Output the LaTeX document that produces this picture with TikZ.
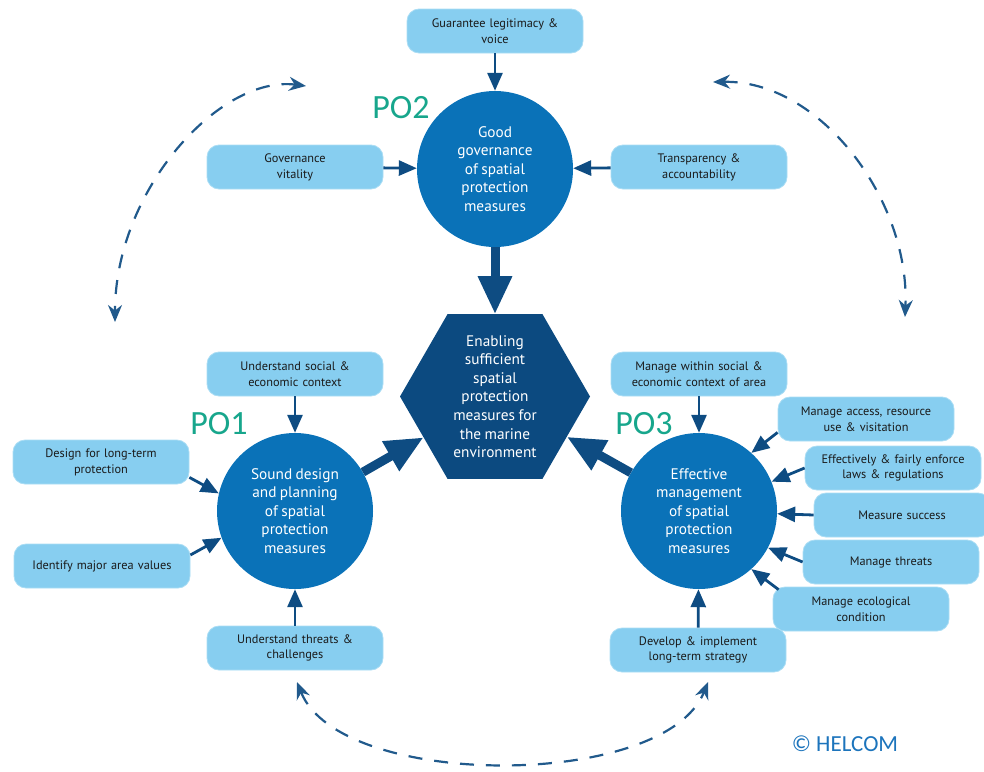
\documentclass[tikz,border=0pt]{standalone}
\usepackage{fontspec}
\setmainfont{PT Sans}[WordSpace=0.85]
\newfontfamily\calfont{Carlito}
\usetikzlibrary{arrows.meta,shapes.geometric}

\definecolor{boxblue}{HTML}{87CEF0}
\definecolor{circblue}{HTML}{0A72B8}
\definecolor{hexblue}{HTML}{0C4A80}
\definecolor{arrblue}{HTML}{0E4C82}
\definecolor{poteal}{HTML}{17A68C}
\definecolor{helblue}{HTML}{1C74BC}
\definecolor{boxtext}{HTML}{1A1A1A}

\tikzset{
  goalbox/.style={rounded corners=12pt, fill=boxblue, draw=boxblue!70!white, line width=0.8pt,
    minimum width=176pt, minimum height=44pt, text width=168pt, align=center, inner sep=0pt,
    text=boxtext, font=\fontsize{12.3}{15.8}\selectfont},
  objcircle/.style={circle, fill=circblue, minimum size=156pt, inner sep=0pt, align=center,
    text=white, font=\fontsize{15.3}{18.6}\selectfont},
  aimhex/.style={regular polygon, regular polygon sides=6, minimum size=190pt, inner sep=0pt,
    outer sep=0pt, fill=hexblue},
  smallarr/.style={draw=arrblue, line width=2.8pt, -{Triangle[length=18pt,width=15pt]}},
  bigarr/.style={draw=arrblue, line width=9pt, -{Triangle[length=38pt,width=32pt]}},
  cyclearr/.style={draw=arrblue!92!white, line width=2.2pt, dash pattern=on 14pt off 12pt,
    {Stealth[length=17pt,width=14pt]}-{Stealth[length=17pt,width=14pt]}},
  polabel/.style={text=poteal, font=\calfont\fontsize{34}{34}\selectfont}
}

\begin{document}
\begin{tikzpicture}[x=1pt,y=-1pt]
                \useasboundingbox (0,0) rectangle (984,771);

                % aim and objectives
                \node[aimhex] (aim) at (495,396.5) {};
                \node[align=center, text=white, font=\fontsize{15.3}{18.6}\selectfont] (aimtext) at (aim.center)
                    {Enabling\\sufficient\\spatial\\protection\\measures for\\the marine\\environment};
                \node[objcircle] (gov) at (495,169) {Good\\governance\\of spatial\\protection\\measures};
                \node[objcircle] (design) at (295,511) {Sound design\\and planning\\of spatial\\protection\\measures};
                \node[objcircle] (manage) at (699,511) {Effective\\management\\of spatial\\protection\\measures};

                \node[polabel] (po2) at (401,108) {PO2};
                \node[polabel] (po1) at (219,424) {PO1};
                \node[polabel] (po3) at (644,424) {PO3};

                % PO2 boxes
                \node[goalbox] (legit) at (495,31) {Guarantee legitimacy \&\\voice};
                \node[goalbox] (vital) at (295,167) {Governance\\vitality};
                \node[goalbox] (transp) at (699,167) {Transparency \&\\accountability};

                % PO1 boxes
                \node[goalbox] (social) at (295,374) {Understand social \&\\economic context};
                \node[goalbox] (longterm) at (101,462) {Design for long-term\\protection};
                \node[goalbox] (values) at (102,566) {Identify major area values};
                \node[goalbox] (threats) at (295,648) {Understand threats \&\\challenges};

                % PO3 boxes
                \node[goalbox] (context) at (699,374) {Manage within social \&\\economic context of area};
                \node[goalbox] (access) at (866,419) {Manage access, resource\\use \& visitation};
                \node[goalbox] (enforce) at (893,468) {Effectively \& fairly enforce\\laws \& regulations};
                \node[goalbox] (success) at (902,515) {Measure success};
                \node[goalbox] (mthreats) at (891,562) {Manage threats};
                \node[goalbox] (ecol) at (861,609) {Manage ecological\\condition};
                \node[goalbox] (strategy) at (698,650) {Develop \& implement\\long-term strategy};

                \node[text=helblue, font=\calfont\fontsize{23}{23}\selectfont] (copy) at (845,744) {© HELCOM};

                \draw[smallarr] (legit) -- (gov);
                \draw[smallarr] (vital) -- (gov);
                \draw[smallarr] (transp) -- (gov);

                \draw[smallarr] (social) -- (design);
                \draw[smallarr] (threats) -- (design);
                \draw[smallarr] ([yshift=7pt]longterm.south east) -- (design.167);
                \draw[smallarr] ([yshift=11pt]values.east) -- (design.200);

                \draw[smallarr] (context) -- (manage);
                \draw[smallarr] (strategy) -- (manage);
                \draw[smallarr] ([yshift=9pt]access.south west) -- (manage.48);
                \draw[smallarr] (enforce.west) -- (manage.22);
                \draw[smallarr] (success.west) -- (manage);
                \draw[smallarr] (mthreats.west) -- (manage.-28);
                \draw[smallarr] ([shift={(6pt,-3pt)}]ecol.north west) -- (manage.-48);

                \draw[bigarr] (gov) -- (aim);
                \draw[bigarr] (design) -- (aim);
                \draw[bigarr] (manage) -- (aim);

                % cycle arcs
                \coordinate (tl1) at (306,86);
                \coordinate (tl2) at (115,322);
                \coordinate (tr1) at (713,82);
                \coordinate (tr2) at (905,317);
                \coordinate (bt1) at (297,682);
                \coordinate (bt2) at (708,682);
                \draw[cyclearr] (tl1) .. controls (220,75) and (115,190) .. (tl2);
                \draw[cyclearr] (tr1) .. controls (820,80) and (910,200) .. (tr2);
                \draw[cyclearr] (bt1) .. controls (340,790) and (665,790) .. (bt2);
\end{tikzpicture}
\end{document}
